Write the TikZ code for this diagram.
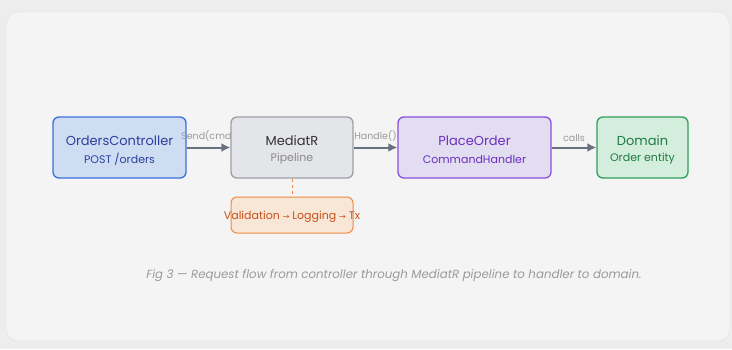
\documentclass[tikz,border=0pt]{standalone}
\usepackage{fontspec}
\setmainfont{Poppins}
\newfontfamily\arrowfont{DejaVu Sans}
\usepackage{xcolor}
\usetikzlibrary{arrows.meta}
\definecolor{ctrlfill}{HTML}{CFDDF2}
\definecolor{ctrldraw}{HTML}{3B6FD9}
\definecolor{ctrltext}{HTML}{2A3F9E}
\definecolor{medfill}{HTML}{E4E5E8}
\definecolor{meddraw}{HTML}{9CA0A8}
\definecolor{medtext}{HTML}{333333}
\definecolor{medsub}{HTML}{8A8A8A}
\definecolor{hndfill}{HTML}{E3DDF2}
\definecolor{hnddraw}{HTML}{8A4FE0}
\definecolor{hndtext}{HTML}{6A2FC0}
\definecolor{domfill}{HTML}{D3EEDD}
\definecolor{domdraw}{HTML}{2EA05A}
\definecolor{domtext}{HTML}{1F7A3F}
\definecolor{pipefill}{HTML}{F8E6D6}
\definecolor{pipedraw}{HTML}{F08A40}
\definecolor{pipetext}{HTML}{C8501A}
\definecolor{flowgray}{HTML}{6B7080}
\definecolor{lblgray}{HTML}{9A9A9A}
\pgfdeclarelayer{card}
\pgfdeclarelayer{first}
\pgfdeclarelayer{edges}
\pgfsetlayers{card,first,edges,main}

\begin{document}
\begin{tikzpicture}[x=1pt,y=1pt,>={Latex[length=9pt,width=9pt]}]
  \tikzstyle{box}=[rectangle,rounded corners=6pt,line width=1.3pt,minimum height=61pt,inner sep=0pt]
  \tikzstyle{ttl}=[font=\fontsize{13}{15}\selectfont,inner sep=0pt]
  \tikzstyle{sub}=[font=\fontsize{11}{13}\selectfont,inner sep=0pt]
  \tikzstyle{flow}=[->,draw=flowgray,line width=2pt]
  \tikzstyle{lbl}=[above=2pt,text=lblgray,font=\fontsize{9.5}{11}\selectfont]
  \useasboundingbox (0,0) rectangle (732,349);
  \begin{pgfonlayer}{card}
  \fill[black!7] (0,0) rectangle (732,349);
  \draw[black!13,fill=black!4.5,rounded corners=12pt] (6,8) rectangle (730,337);
  \end{pgfonlayer}
  % the four steps
  \begin{pgfonlayer}{first}
  \node[box,fill=ctrlfill,draw=ctrldraw,minimum width=133pt] (ctrl) at (119.5,201.5) {};
  \node[ttl,text=ctrltext] (ctrlt) at ([yshift=6.5pt]ctrl.center) {OrdersController};
  \node[sub,text=ctrltext] (ctrls) at ([yshift=-11.5pt]ctrl.center) {POST /orders};
  \end{pgfonlayer}
  \node[box,fill=medfill,draw=meddraw,minimum width=122pt] (med) at (292,201.5) {};
  \node[ttl,text=medtext] (medt) at ([yshift=6.5pt]med.center) {MediatR};
  \node[sub,text=medsub] (meds) at ([yshift=-11.5pt]med.center) {Pipeline};
  \node[box,fill=hndfill,draw=hnddraw,minimum width=153pt] (hnd) at (474.5,201.5) {};
  \node[ttl,text=hndtext] (hndt) at ([yshift=6.5pt]hnd.center) {PlaceOrder};
  \node[sub,text=hndtext] (hnds) at ([yshift=-11.5pt]hnd.center) {CommandHandler};
  \node[box,fill=domfill,draw=domdraw,minimum width=91pt] (dom) at (642.5,201.5) {};
  \node[ttl,text=domtext] (domt) at ([yshift=6.5pt]dom.center) {Domain};
  \node[sub,text=domtext] (doms) at ([yshift=-11.5pt]dom.center) {Order entity};
  % behaviours under the pipeline
  \node[box,fill=pipefill,draw=pipedraw,line width=1pt,minimum width=122pt,minimum height=36pt] (pipe) at (292,134) {};
  \node[sub,text=pipetext] (pipetxt) at ([yshift=-1.5pt]pipe.center)
    {Validation {\arrowfont\fontsize{8}{10}\selectfont →} Logging {\arrowfont\fontsize{8}{10}\selectfont →} Tx};
  \draw[pipedraw,dashed,line width=1pt] (med) -- (pipe);
  \begin{pgfonlayer}{edges}
  \draw[flow] (ctrl) -- node[lbl] {Send(cmd)} (med);
  \draw[flow] (med) -- node[lbl] {Handle()} (hnd);
  \draw[flow] (hnd) -- node[lbl] {calls} (dom);
  \end{pgfonlayer}
  \node[text=lblgray,font=\fontsize{11.8}{14}\selectfont\itshape] (cap) at (394,73)
    {Fig 3 — Request flow from controller through MediatR pipeline to handler to domain.};
\end{tikzpicture}
\end{document}
